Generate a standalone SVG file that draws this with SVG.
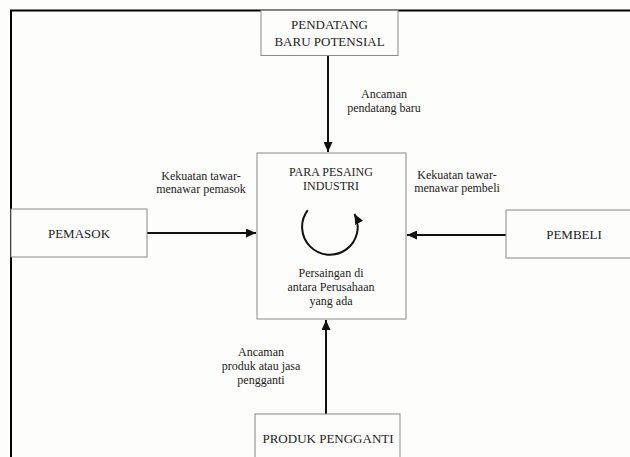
<svg xmlns="http://www.w3.org/2000/svg" width="630" height="457" viewBox="0 0 630 457">
  <style>
    .box { fill: #fdfdfb; stroke: #8a8a8a; stroke-width: 1; }
    .frame { stroke: #000; stroke-width: 2; fill: none; }
    .conn { stroke: #111; stroke-width: 2; fill: none; }
    .lbl { font-family: "Liberation Serif", "Times New Roman", serif; fill: #222; text-anchor: middle; }
    .big { font-size: 13px; }
    .sm { font-size: 12px; }
  </style>
  <defs>
    <marker id="ah" markerUnits="userSpaceOnUse" markerWidth="11" markerHeight="9" refX="10" refY="4.5" orient="auto">
      <path d="M0,0 L10,4.5 L0,9 z" fill="#111"/>
    </marker>
  </defs>
  <rect x="0" y="0" width="630" height="457" fill="#fdfdfb"/>
  <g id="frame">
    <path class="frame" d="M11,457 L11,10.5 L630,10.5"/>
  </g>

  <g id="connectors">
    <path class="conn" d="M328,55 L328,152" marker-end="url(#ah)"/>
    <path class="conn" d="M147,233 L256,233" marker-end="url(#ah)"/>
    <path class="conn" d="M506,235 L407,235" marker-end="url(#ah)"/>
    <path class="conn" d="M326,414 L326,320" marker-end="url(#ah)"/>
    <text class="lbl sm" x="384" y="98">Ancaman</text>
    <text class="lbl sm" x="384" y="112">pendatang baru</text>
    <text class="lbl sm" x="201" y="180">Kekuatan tawar-</text>
    <text class="lbl sm" x="201" y="193">menawar pemasok</text>
    <text class="lbl sm" x="457" y="179">Kekuatan tawar-</text>
    <text class="lbl sm" x="457" y="192">menawar pembeli</text>
    <text class="lbl sm" x="261" y="356">Ancaman</text>
    <text class="lbl sm" x="261" y="370">produk atau jasa</text>
    <text class="lbl sm" x="261" y="384">pengganti</text>
  </g>

  <g id="pendatang">
    <rect class="box" x="261" y="10.5" width="137" height="45"/>
    <text class="lbl big" x="329.5" y="29">PENDATANG</text>
    <text class="lbl big" x="329.5" y="45.5">BARU POTENSIAL</text>
  </g>

  <g id="pesaing">
    <rect class="box" x="257" y="153" width="149" height="166"/>
    <text class="lbl sm" x="331" y="176">PARA PESAING</text>
    <text class="lbl sm" x="331" y="189.5">INDUSTRI</text>
    <path class="conn" d="M307.8,210.1 A27.8,27.8 0 1 0 354.5,214" marker-end="url(#ah)"/>
    <text class="lbl sm" x="331" y="277">Persaingan di</text>
    <text class="lbl sm" x="331" y="291">antara Perusahaan</text>
    <text class="lbl sm" x="331" y="305">yang ada</text>
  </g>

  <g id="pemasok">
    <rect class="box" x="11" y="209" width="136" height="48"/>
    <text class="lbl big" x="79" y="237.5">PEMASOK</text>
  </g>

  <g id="pembeli">
    <rect class="box" x="506" y="210" width="140" height="48"/>
    <text class="lbl big" x="574" y="239">PEMBELI</text>
  </g>

  <g id="produk">
    <rect class="box" x="255" y="414" width="145" height="50"/>
    <text class="lbl big" x="328" y="443">PRODUK PENGGANTI</text>
  </g>
</svg>
